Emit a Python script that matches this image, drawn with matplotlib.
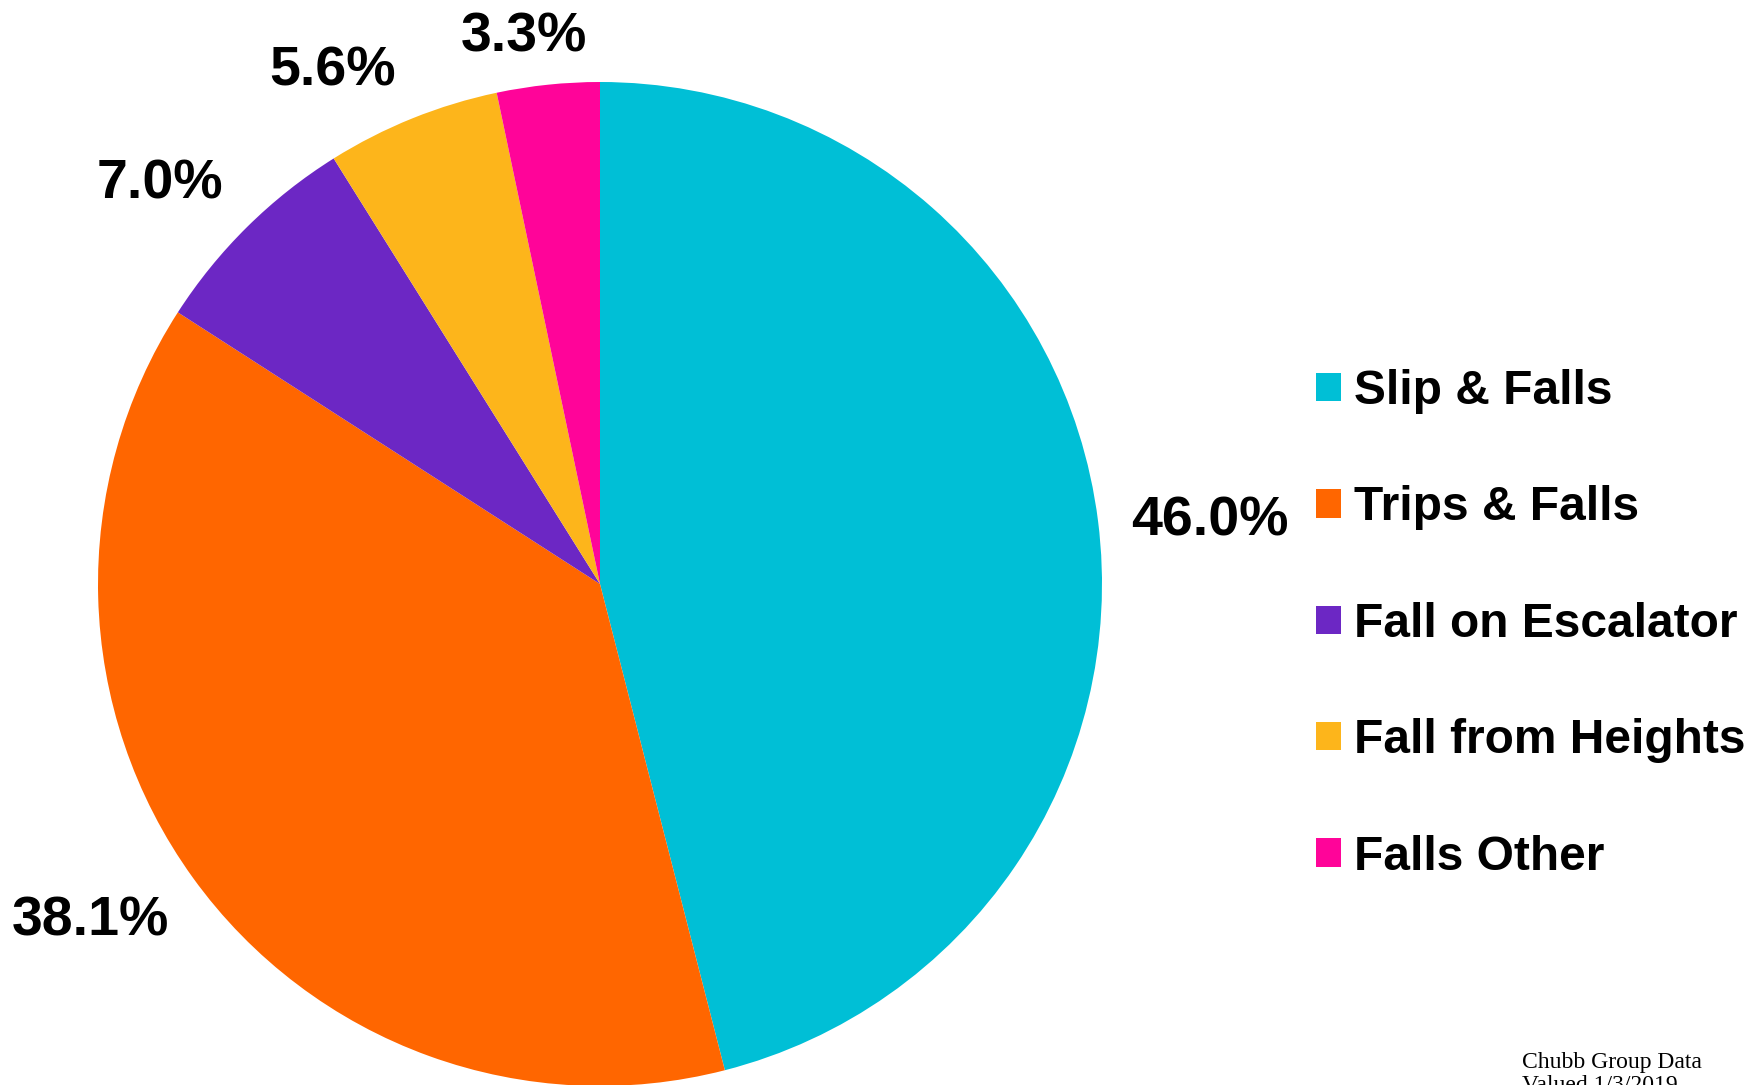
import matplotlib.pyplot as plt
from matplotlib.patches import Patch

categorias = ["Slip & Falls", "Trips & Falls", "Fall on Escalator",
              "Fall from Heights", "Falls Other"]
porcentajes = [46.0, 38.1, 7.0, 5.6, 3.3]
colores = ["#00BFD6", "#FF6600", "#6C27C4", "#FDB51B", "#FF0499"]

# posiciones de las etiquetas (en radios del pie)
pos_etiquetas = [(1.215, 0.125), (-1.016, -0.673), (-0.876, 0.795),
                 (-0.532, 1.02), (-0.151, 1.088)]

W, H = 1760, 1085
fig = plt.figure(figsize=(W / 100, H / 100), dpi=100)
fig.patch.set_facecolor("white")

cx, cy, R = 600, 1085 - 584, 502
ax = fig.add_axes([(cx - R) / W, (cy - R) / H, 2 * R / W, 2 * R / H])

wedges, _ = ax.pie(porcentajes, colors=colores, startangle=90,
                   counterclock=False, radius=1,
                   wedgeprops=dict(linewidth=0))
ax.set_xlim(-1, 1)
ax.set_ylim(-1, 1)
ax.set_aspect("equal")
ax.axis("off")

for p, (x, y) in zip(porcentajes, pos_etiquetas):
    ax.text(x, y, f"{p:.1f}%", ha="center", va="center",
            fontsize=40, fontweight="bold", family="Liberation Sans",
            clip_on=False)

handles = [Patch(facecolor=c, edgecolor="none") for c in colores]
fig.legend(handles, categorias, loc="upper left",
           bbox_to_anchor=(1316 / W, 1 - 369 / H),
           frameon=False, borderpad=0, borderaxespad=0,
           handlelength=0.53, handleheight=0.53, handletextpad=0.26,
           labelspacing=1.49,
           prop=dict(family="Liberation Sans", weight="bold", size=34.5))

fig.text(1522 / W, 1 - 1052 / H, "Chubb Group Data\nValued 1/3/2019",
         ha="left", va="top", fontsize=17, family="Liberation Serif",
         linespacing=1.1)

fig.savefig("out.png", dpi=100)
